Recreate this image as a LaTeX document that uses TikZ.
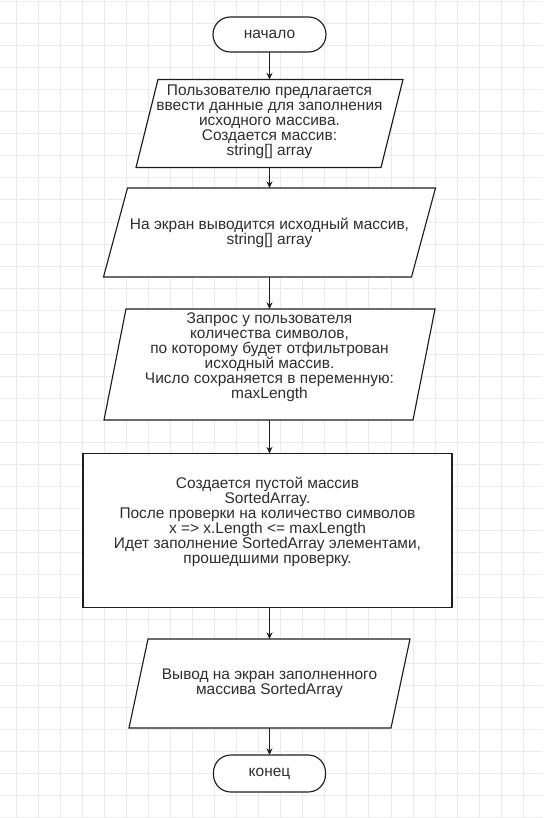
\documentclass[tikz,border=0pt]{standalone}
\usepackage{fontspec}
\setmainfont{Liberation Sans}
\usetikzlibrary{arrows.meta}
\definecolor{gridline}{HTML}{EBEBEB}
\definecolor{ink}{HTML}{1E1E1E}
\definecolor{txtc}{HTML}{2E2E2E}

\begin{document}
\begin{tikzpicture}[x=0.75pt,y=-0.75pt,
  every node/.style={inner sep=0pt,outer sep=0pt},
  outline/.style={draw=ink,line width=0.85pt,fill=white},
  terminal/.style={outline,rounded corners=13pt},
  label/.style={align=center,text=txtc,font=\fontsize{11.6pt}{11.25pt}\selectfont},
  conn/.style={draw=ink,line width=0.85pt,-{Stealth[length=5pt,width=4.5pt]}},
  gridln/.style={draw=gridline,line width=0.75pt}
]
% page and background grid
\fill[white] (0,0) rectangle (543,818);
\useasboundingbox (0,0) rectangle (543,818);
\begin{scope}
\clip (0,0) rectangle (543,818);
\foreach \i in {0,...,24} \draw[gridln] ({16+22.06*\i},0) -- ({16+22.06*\i},818);
\foreach \j in {0,...,37} \draw[gridln] (0,{1.4+22.06*\j}) -- (543,{1.4+22.06*\j});
\end{scope}

% block frames
\node[terminal,minimum width=84.75pt,minimum height=26.25pt] (start) at (269.5,34.5) {};
\node[minimum width=200.25pt,minimum height=66pt] (p1) at (269.5,123.5) {};
\node[minimum width=249pt,minimum height=66.75pt] (p2) at (269.5,232.5) {};
\node[minimum width=248.25pt,minimum height=83.25pt] (p3) at (269.5,364.5) {};
\node[outline,minimum width=276.75pt,minimum height=115.5pt] (proc) at (267.5,530.5) {};
\node[minimum width=210.75pt,minimum height=66.75pt] (p5) at (269.5,683.5) {};
\node[terminal,minimum width=84pt,minimum height=27.75pt] (stop) at (269.5,773.5) {};

% parallelogram outlines (input / output blocks)
\foreach \n/\s in {p1/16.5pt,p2/18pt,p3/16.5pt,p5/14.25pt}
  \draw[outline] ([xshift=\s]\n.north west) -- (\n.north east)
    -- ([xshift=-\s]\n.south east) -- (\n.south west) -- cycle;

% labels
\node[label] (startt) at (start.center) {начало};
\node[label] (p1t) at ([yshift=1.5pt]p1.center) {Пользователю предлагается\\ввести данные для заполнения\\исходного массива.\\Создается массив:\\string[] array};
\node[label] (p2t) at (p2.center) {На экран выводится исходный массив,\\string[] array};
\node[label] (p3t) at ([yshift=5.6pt]p3.center) {Запрос у пользователя\\количества символов,\\по которому будет отфильтрован\\исходный массив.\\Число сохраняется в переменную:\\maxLength};
\node[label] (proct) at ([yshift=6.75pt]proc.center) {Создается пустой массив\\SortedArray.\\После проверки на количество символов\\x => x.Length <= maxLength\\Идет заполнение SortedArray элементами,\\прошедшими проверку.};
\node[label] (p5t) at (p5.center) {Вывод на экран заполненного\\массива SortedArray};
\node[label] (stopt) at (stop.center) {конец};

% connectors
\draw[conn] (start.south) -- (start.south |- p1.north);
\draw[conn] (p1.south) -- (p1.south |- p2.north);
\draw[conn] (p2.south) -- (p2.south |- p3.north);
\draw[conn] (p3.south) -- (p3.south |- proc.north);
\draw[conn] (proc.south -| p3.south) -- (p3.south |- p5.north);
\draw[conn] (p5.south) -- (p5.south |- stop.north);
\end{tikzpicture}
\end{document}
